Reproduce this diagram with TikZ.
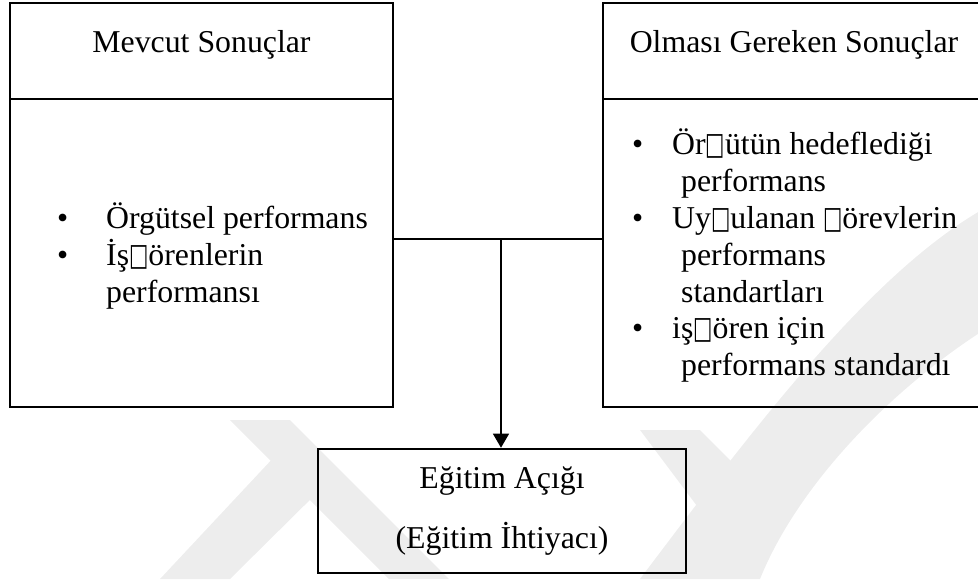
\documentclass[tikz,border=0pt]{standalone}
\usepackage{fontspec}
\usepackage{graphicx}
\setmainfont{Liberation Serif}
\newfontfamily\symfont{DejaVu Sans}
\usetikzlibrary{arrows.meta,fit}
\newcommand{\gbox}{\scalebox{0.66}[1]{\symfont\fontsize{31}{31}\selectfont □}}
\tikzset{
  box/.style={draw=black, line width=2.6pt, inner sep=0pt},
  conn/.style={draw=black, line width=1.3pt},
  txt/.style={anchor=base west, inner sep=0pt, font=\fontsize{31.8}{36.7}\selectfont},
  ctxt/.style={anchor=base, inner sep=0pt, font=\fontsize{31.8}{36.7}\selectfont},
  wm/.style={fill=black!7, draw=none}
}
\begin{document}
\begin{tikzpicture}[x=1pt,y=-1pt]
\useasboundingbox (0,0) rectangle (978,579);
\clip (0,0) rectangle (978,579);
% faint watermark
\fill[wm] (230,420) -- (290,420) -- (449,579) -- (389,579) -- cycle;
\fill[wm] (160,579) -- (230,579) -- (330,480) -- (290,440) -- cycle;
\fill[wm] (640,430) -- (700,430) -- (740,470) -- (700,510) -- cycle;
\fill[wm] (640,579) .. controls (760,420) and (880,260) .. (1000,200) -- (1000,320) .. controls (900,380) and (800,480) .. (760,579) -- cycle;
% boxes
\node[box, fit={(10,3)(393,99)}] (lh) {};
\node[box, fit={(10,99)(393,407)}] (lb) {};
\node[box, fit={(603,3)(985,99)}] (rh) {};
\node[box, fit={(603,99)(985,407)}] (rb) {};
\node[box, fit={(318,449)(686,573)}] (gap) {};
% texts
\node[ctxt] (lht) at (201.5,52) {Mevcut Sonuçlar};
\node[ctxt] (rht) at (794,52) {Olması Gereken Sonuçlar};
\node[txt] (lb1) at (57,228) {•};
\node[txt] (l1) at (106,228) {Örgütsel performans};
\node[txt] (lb2) at (57,265) {•};
\node[txt] (l2) at (106,265) {İş\gbox örenlerin};
\node[txt] (l3) at (106,302) {performansı};
\node[txt] (rb1) at (632,154) {•};
\node[txt] (r1) at (672,154) {Ör\gbox ütün hedeflediği};
\node[txt] (r2) at (681,191) {performans};
\node[txt] (rb2) at (632,228) {•};
\node[txt] (r3) at (672,228) {Uy\gbox ulanan \gbox örevlerin};
\node[txt] (r4) at (681,265) {performans};
\node[txt] (r5) at (681,302) {standartları};
\node[txt] (rb3) at (632,338) {•};
\node[txt] (r6) at (672,338) {iş\gbox ören için};
\node[txt] (r7) at (681,375) {performans standardı};
\node[ctxt] (g1) at (502,488) {Eğitim Açığı};
\node[ctxt] (g2) at (502,548) {(Eğitim İhtiyacı)};
% connectors
\coordinate (j) at (501,239);
\draw[conn] (lb.east |- j) -- (rb.west |- j);
\draw[conn, -{Triangle[width=16pt,length=14pt]}] (j) -- (j |- gap.north);
\end{tikzpicture}
\end{document}
